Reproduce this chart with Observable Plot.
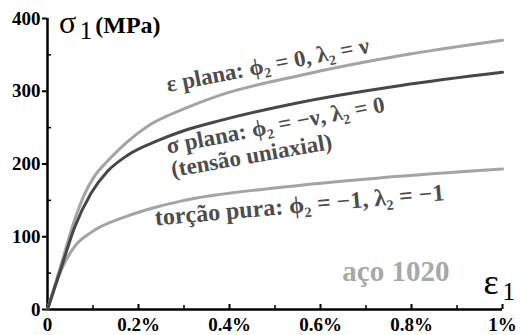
<!DOCTYPE html>
<html>
<head>
<meta charset="utf-8">
<script src="https://cdn.jsdelivr.net/npm/d3@7"></script>
<script src="https://cdn.jsdelivr.net/npm/@observablehq/plot@0.6"></script>
<style>
  html, body { margin: 0; padding: 0; background: #fff; }
</style>
</head>
<body>
<div id="chart"></div>
<script>
// Strain (%) and stress (MPa)
const planeStrainX = [0, 0.03, 0.059, 0.081, 0.103, 0.132, 0.22, 0.301, 0.381, 0.557, 0.777, 1.0];
const planeStrainY = [0, 62, 122, 158, 183, 204, 252, 276, 295, 322, 349, 370];

const planeStressX = [0, 0.03, 0.059, 0.096, 0.132, 0.176, 0.242, 0.301, 0.381, 0.557, 0.777, 1.0];
const planeStressY = [0, 57, 112, 160, 190, 212, 232, 246, 260, 285, 308, 326];

const torsionX = [0, 0.03, 0.059, 0.096, 0.169, 0.246, 0.293, 0.513, 0.733, 1.0];
const torsionY = [0, 54, 86, 106, 127, 142, 149, 168, 181, 193];

const xMajorTicks = [0, 0.2, 0.4, 0.6, 0.8, 1.0];
const xTickLabels = ["0", "0.2%", "0.4%", "0.6%", "0.8%", "1%"];
const xMinorTicks = [0.1, 0.3, 0.5, 0.7, 0.9];
const yMajorTicks = [0, 100, 200, 300, 400];
const yMinorTicks = [50, 150, 250, 350];

const toRows = (xs, ys) => xs.map((x, i) => ({x, y: ys[i]}));
const planeStrain = toRows(planeStrainX, planeStrainY);
const planeStress = toRows(planeStressX, planeStressY);
const torsion = toRows(torsionX, torsionY);

const light = "#a4a4a4";
const dark = "#474747";
const textGray = "#4d4d4d";
const serif = "Liberation Serif";

const chart = Plot.plot({
  width: 522,
  height: 335,
  marginLeft: 47,
  marginRight: 20,
  marginTop: 18,
  marginBottom: 26,
  style: {fontSize: "19px", fontWeight: "bold", background: "#fff", color: "#000"},
  x: {domain: [0, 1]},
  y: {domain: [0, 400]},
  marks: [
    Plot.axisX({ticks: xMajorTicks, tickSize: -5, tickFormat: () => "", strokeWidth: 2, label: null}),
    Plot.axisX({ticks: xMinorTicks, tickSize: -4, tickFormat: () => "", strokeWidth: 1.5, label: null}),
    Plot.axisX({ticks: xMajorTicks, tickSize: 0, tickPadding: 8, tickFormat: (d, i) => xTickLabels[i], label: null, fontFamily: serif, fontSize: 19, fontWeight: "bold"}),
    Plot.axisY({ticks: yMajorTicks, tickSize: 5, tickFormat: () => "", strokeWidth: 2, label: null}),
    Plot.axisY({ticks: yMinorTicks, tickSize: -4, tickFormat: () => "", strokeWidth: 1.5, label: null}),
    Plot.axisY({ticks: yMajorTicks, tickSize: 0, tickPadding: 7, label: null, fontFamily: serif, fontSize: 19, fontWeight: "bold"}),
    Plot.ruleX([0], {stroke: "#000", strokeWidth: 2.5}),
    Plot.ruleY([0], {stroke: "#000", strokeWidth: 2.5}),
    Plot.line(torsion, {x: "x", y: "y", stroke: light, strokeWidth: 3, curve: "monotone-x"}),
    Plot.line(planeStrain, {x: "x", y: "y", stroke: light, strokeWidth: 3, curve: "monotone-x"}),
    Plot.line(planeStress, {x: "x", y: "y", stroke: dark, strokeWidth: 3, curve: "monotone-x"}),
    Plot.text(["ε plana: ϕ₂ = 0, λ₂ = ν"], {x: 0.262, y: 309, text: d => d, textAnchor: "start", rotate: -11, fill: textGray, fontFamily: serif, fontSize: 23, fontWeight: "bold"}),
    Plot.text(["σ plana: ϕ₂ = −ν, λ₂ = 0"], {x: 0.262, y: 224, text: d => d, textAnchor: "start", rotate: -11, fill: textGray, fontFamily: serif, fontSize: 23, fontWeight: "bold"}),
    Plot.text(["(tensão uniaxial)"], {x: 0.272, y: 192, text: d => d, textAnchor: "start", rotate: -10, fill: textGray, fontFamily: serif, fontSize: 23, fontWeight: "bold"}),
    Plot.text(["torção pura: ϕ₂ = −1, λ₂ = −1"], {x: 0.236, y: 126, text: d => d, textAnchor: "start", rotate: -5, fill: textGray, fontFamily: serif, fontSize: 24, fontWeight: "bold"}),
    Plot.text(["aço 1020"], {x: 0.648, y: 52, text: d => d, textAnchor: "start", fill: "#a8a8a8", fontFamily: serif, fontSize: 29, fontWeight: "bold"}),
    Plot.text(["σ"], {x: 0.025, y: 394, text: d => d, textAnchor: "start", fill: "#000", fontFamily: serif, fontSize: 32, fontWeight: "normal"}),
    Plot.text(["1"], {x: 0.071, y: 383, text: d => d, textAnchor: "start", fill: "#000", fontFamily: serif, fontSize: 25, fontWeight: "normal"}),
    Plot.text(["(MPa)"], {x: 0.105, y: 390, text: d => d, textAnchor: "start", fill: "#000", fontFamily: serif, fontSize: 24, fontWeight: "bold"}),
    Plot.text(["ε"], {x: 0.958, y: 37, text: d => d, textAnchor: "start", fill: "#000", fontFamily: serif, fontSize: 36, fontWeight: "normal"}),
    Plot.text(["1"], {x: 1.0, y: 24, text: d => d, textAnchor: "start", fill: "#000", fontFamily: serif, fontSize: 25, fontWeight: "normal"})
  ]
});
chart.setAttribute("font-family", serif);
chart.style.fontFamily = serif;
chart.querySelectorAll("g, text").forEach(t => {
  if (t.hasAttribute("font-family") || t.tagName === "text") t.setAttribute("font-family", serif);
});
document.getElementById("chart").appendChild(chart);
</script>
</body>
</html>
